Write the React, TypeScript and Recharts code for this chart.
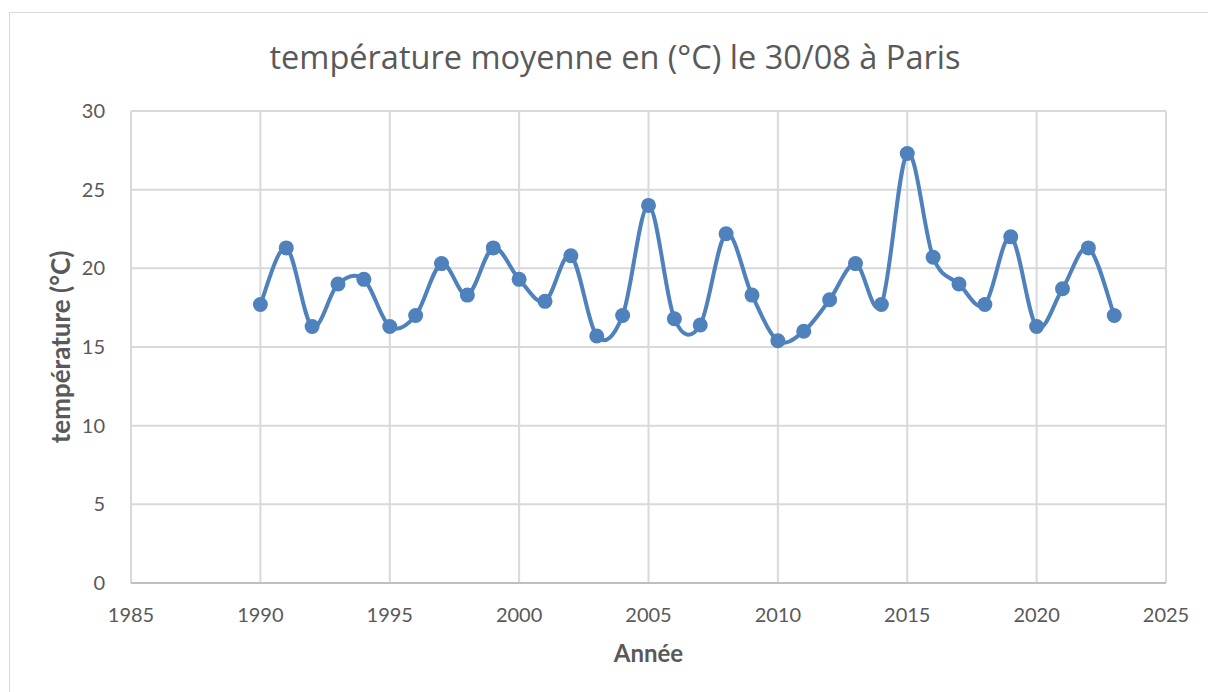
import { LineChart, Line, XAxis, YAxis, CartesianGrid, Label } from "recharts";

const years = [
  1990, 1991, 1992, 1993, 1994, 1995, 1996, 1997, 1998, 1999,
  2000, 2001, 2002, 2003, 2004, 2005, 2006, 2007, 2008, 2009,
  2010, 2011, 2012, 2013, 2014, 2015, 2016, 2017, 2018, 2019,
  2020, 2021, 2022, 2023,
];
const temperatures = [
  17.7, 21.3, 16.3, 19.0, 19.3, 16.3, 17.0, 20.3, 18.3, 21.3,
  19.3, 17.9, 20.8, 15.7, 17.0, 24.0, 16.8, 16.4, 22.2, 18.3,
  15.4, 16.0, 18.0, 20.3, 17.7, 27.3, 20.7, 19.0, 17.7, 22.0,
  16.3, 18.7, 21.3, 17.0,
];
const xTicks = [1985, 1990, 1995, 2000, 2005, 2010, 2015, 2020, 2025];
const yTicks = [0, 5, 10, 15, 20, 25, 30];

const data = years.map((year, i) => ({ year, temp: temperatures[i] }));

const FONT = "Lato, 'Open Sans', sans-serif";
const TEXT = "#595959";
const BLUE = "#4f81bd";

// Excel-style smoothed line (cardinal spline through every point)
const excelSmooth = (context: any) => {
  let pts: [number, number][] = [];
  return {
    areaStart() {},
    areaEnd() {},
    lineStart() {
      pts = [];
    },
    point(x: number, y: number) {
      pts.push([+x, +y]);
    },
    lineEnd() {
      const n = pts.length;
      if (!n) return;
      context.moveTo(pts[0][0], pts[0][1]);
      for (let i = 0; i < n - 1; i++) {
        const p0 = pts[Math.max(i - 1, 0)];
        const p1 = pts[i];
        const p2 = pts[i + 1];
        const p3 = pts[Math.min(i + 2, n - 1)];
        context.bezierCurveTo(
          p1[0] + (p2[0] - p0[0]) / 6, p1[1] + (p2[1] - p0[1]) / 6,
          p2[0] - (p3[0] - p1[0]) / 6, p2[1] - (p3[1] - p1[1]) / 6,
          p2[0], p2[1],
        );
      }
    },
  };
};

function XTitle({ viewBox }: any) {
  return (
    <text
      x={viewBox.x + viewBox.width / 2}
      y={viewBox.y + viewBox.height + 39}
      textAnchor="middle"
      dominantBaseline="central"
      fill={TEXT}
      fontFamily={FONT}
      fontWeight="bold"
      fontSize={24}
    >
      Année
    </text>
  );
}

function YTitle({ viewBox }: any) {
  const cx = viewBox.x - 11;
  const cy = viewBox.y + viewBox.height / 2;
  return (
    <text
      x={cx}
      y={cy}
      transform={`rotate(-90, ${cx}, ${cy})`}
      textAnchor="middle"
      dominantBaseline="central"
      fill={TEXT}
      fontFamily={FONT}
      fontWeight="bold"
      fontSize={26}
    >
      température (°C)
    </text>
  );
}

export default function App() {
  return (
    <div
      style={{
        position: "absolute", left: 0, top: 0, width: 1208, height: 692,
        overflow: "hidden", background: "#fff",
      }}
    >
      <div
        style={{
          position: "absolute", left: 9, top: 40, width: 1212, textAlign: "center",
          fontFamily: "'Open Sans', Lato, sans-serif", fontSize: 32.5, lineHeight: "34px",
          color: TEXT,
        }}
      >
        température moyenne en (°C) le 30/08 à Paris
      </div>
      <div
        style={{
          position: "absolute", left: 9, top: 12, width: 1300, height: 800,
          border: "1px solid #d9d9d9",
        }}
      />
      <div style={{ position: "absolute", left: 0, top: 0 }}>
        <LineChart
          width={1208}
          height={692}
          data={data}
          margin={{ top: 111, right: 42, bottom: 79, left: 71 }}
        >
          <CartesianGrid stroke="#d9d9d9" strokeWidth={2} />
          <XAxis
            dataKey="year"
            type="number"
            domain={[1985, 2025]}
            ticks={xTicks}
            height={30}
            tickLine={false}
            tickSize={0}
            tickMargin={25}
            axisLine={{ stroke: "#bfbfbf", strokeWidth: 2 }}
            tick={{ fill: TEXT, fontSize: 20, fontFamily: FONT }}
          >
            <Label content={XTitle} />
          </XAxis>
          <YAxis
            type="number"
            domain={[0, 30]}
            ticks={yTicks}
            width={60}
            axisLine={false}
            tickLine={false}
            tickSize={0}
            tickMargin={26}
            tick={{ fill: TEXT, fontSize: 20, fontFamily: FONT }}
          >
            <Label content={YTitle} />
          </YAxis>
          <Line
            dataKey="temp"
            type={excelSmooth as any}
            stroke={BLUE}
            strokeWidth={4}
            dot={{ r: 7.5, fill: BLUE, stroke: BLUE, strokeWidth: 0 }}
            activeDot={false}
            isAnimationActive={false}
          />
        </LineChart>
      </div>
    </div>
  );
}
